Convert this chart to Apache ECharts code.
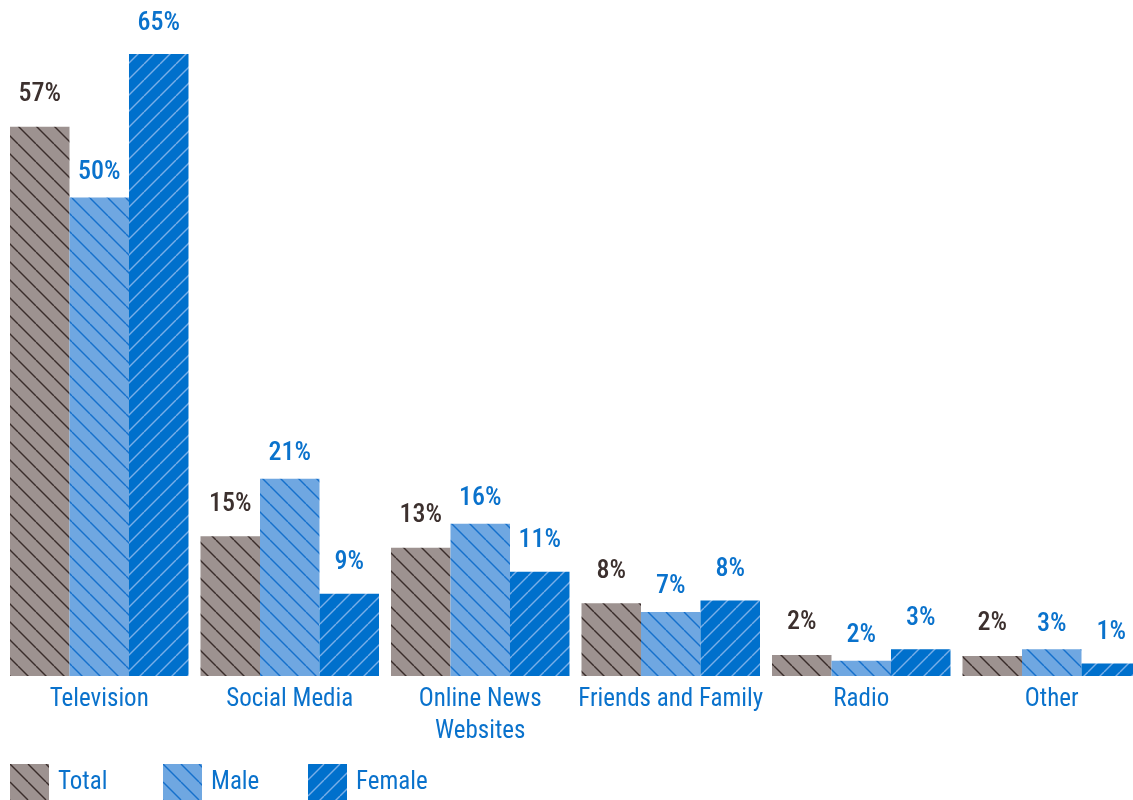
<!DOCTYPE html>
<html>
<head>
<meta charset="utf-8">
<script src="https://cdn.jsdelivr.net/npm/echarts@6/dist/echarts.min.js"></script>
<style>
  html, body { margin: 0; padding: 0; background: #fff; }
  #chart { width: 1133px; height: 800px; }
</style>
</head>
<body>
<div id="chart"></div>
<script>
// data
var categories = ["Television", "Social Media", "Online News\nWebsites", "Friends and Family", "Radio", "Other"];
var seriesNames = ["Total", "Male", "Female"];
var totalValues = [57.4, 14.6, 13.4, 7.6, 2.2, 2.1];
var maleValues = [50, 20.6, 15.9, 6.7, 1.6, 2.8];
var femaleValues = [65, 8.6, 10.9, 7.9, 2.8, 1.3];

var FONT = '"Roboto Condensed", "Liberation Sans", sans-serif';
var BLUE_TEXT = "#0a72cc";
var DARK_TEXT = "#3c302e";

// striped fill, dir 1 = "\" and -1 = "/"
function stripes(bg, line, size, width, dir) {
  var c = document.createElement("canvas");
  c.width = size;
  c.height = size;
  var ctx = c.getContext("2d");
  ctx.fillStyle = bg;
  ctx.fillRect(0, 0, size, size);
  ctx.strokeStyle = line;
  ctx.lineWidth = width;
  for (var k = -1; k <= 1; k++) {
    ctx.beginPath();
    if (dir > 0) {
      ctx.moveTo(k * size, 0);
      ctx.lineTo(k * size + size, size);
    } else {
      ctx.moveTo(k * size, size);
      ctx.lineTo(k * size + size, 0);
    }
    ctx.stroke();
  }
  return { image: c, repeat: "repeat" };
}

var fills = [
  stripes("#9d9290", "#3a2d2b", 18, 1.4, 1),
  stripes("#6fa7e1", "#1570cc", 18, 1.4, 1),
  stripes("#0070cc", "#79aee8", 16, 1.4, -1)
];
var labelColors = [DARK_TEXT, BLUE_TEXT, BLUE_TEXT];
var labelDist = [19, 12, 18];
var allValues = [totalValues, maleValues, femaleValues];

var chart = echarts.init(document.getElementById("chart"));

var series = seriesNames.map(function (name, i) {
  return {
    name: name,
    type: "bar",
    barGap: "0%",
    barCategoryGap: "6.3%",
    data: allValues[i],
    itemStyle: { color: fills[i] },
    label: {
      show: true,
      position: "top",
      distance: labelDist[i],
      color: labelColors[i],
      fontFamily: FONT,
      fontWeight: 500,
      fontSize: 26,
      formatter: function (p) { return Math.round(p.value) + "%"; }
    }
  };
});

var legendLefts = [10, 163, 308];
var legends = seriesNames.map(function (name, i) {
  return {
    data: [name],
    left: legendLefts[i],
    top: 764,
    padding: 0,
    itemWidth: 39,
    itemHeight: 38,
    itemGap: 0,
    icon: "rect",
    textStyle: { color: BLUE_TEXT, fontFamily: FONT, fontSize: 25, padding: [6, 0, 0, 4] }
  };
});

var option = {
  animation: false,
  backgroundColor: "#fff",
  legend: legends,
  grid: { left: 4, width: 1143, top: 54, bottom: 124, outerBoundsMode: "none" },
  xAxis: {
    type: "category",
    data: categories,
    axisLine: { show: false },
    axisTick: { show: false },
    axisLabel: {
      color: BLUE_TEXT,
      fontFamily: FONT,
      fontSize: 25,
      lineHeight: 32,
      margin: 8,
      interval: 0
    }
  },
  yAxis: {
    type: "value",
    min: 0,
    max: 65,
    show: false,
    splitLine: { show: false }
  },
  series: series
};

chart.setOption(option);
</script>
</body>
</html>
